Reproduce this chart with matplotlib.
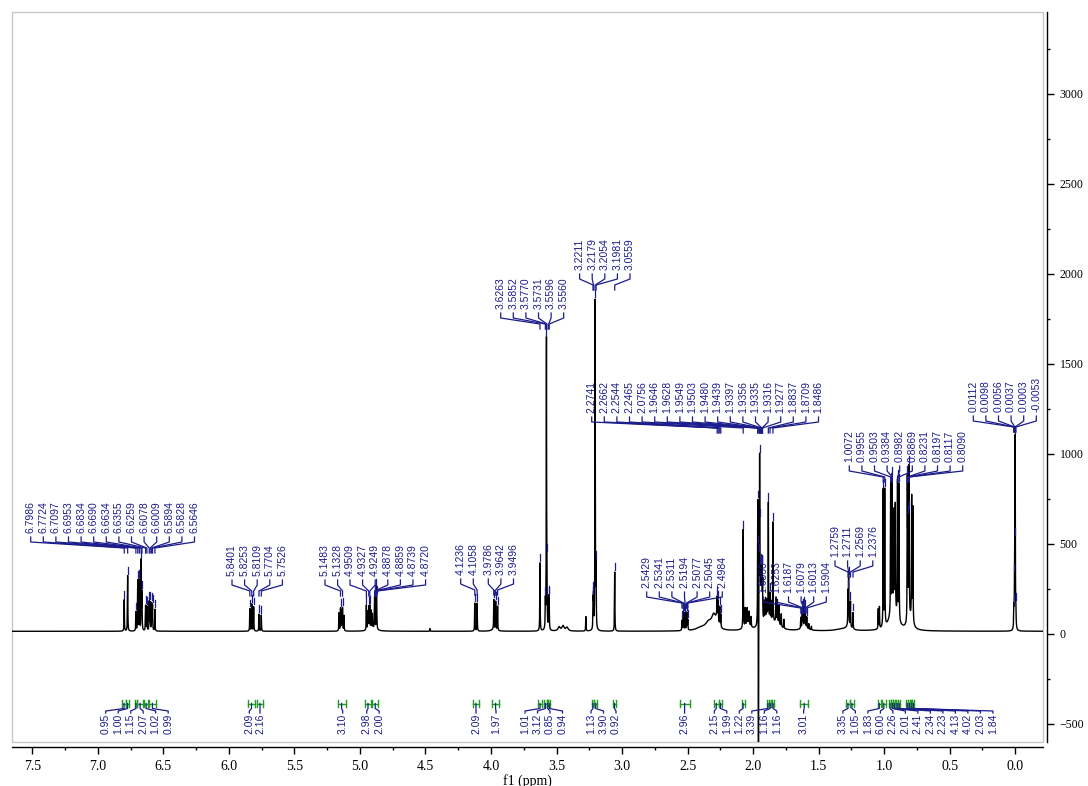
import numpy as np
import matplotlib.pyplot as plt
from matplotlib.patches import Rectangle
from matplotlib.ticker import MultipleLocator, FormatStrFormatter

# 1H NMR peak list: chemical shift (ppm) and height (intensity above baseline)
sharp_ppm = [6.7986, 6.7724, 6.7097, 6.6953, 6.6834, 6.6690, 6.6634, 6.6355, 6.6259,
             6.6078, 6.6009, 6.5894, 6.5828, 6.5646,
             5.8401, 5.8253, 5.8109, 5.7704, 5.7526,
             5.1600, 5.1483, 5.1400, 5.1328, 5.1220,
             4.9509, 4.9400, 4.9327, 4.9249, 4.9150, 4.9050, 4.8878, 4.8859, 4.8739, 4.8720,
             4.4660,
             4.1236, 4.1058, 3.9786, 3.9642, 3.9496,
             3.6263, 3.5852, 3.5770, 3.5731, 3.5596, 3.5560,
             3.2760, 3.2211, 3.2179, 3.2054, 3.1981, 3.0559,
             2.5429, 2.5341, 2.5311, 2.5194, 2.5077, 2.5045, 2.4984,
             2.2741, 2.2662, 2.2544, 2.2465,
             2.0756, 2.0600, 2.0450, 2.0300, 2.0150,
             1.9646, 1.9628, 1.9549, 1.9503, 1.9480, 1.9439, 1.9397, 1.9356, 1.9335,
             1.9316, 1.9277, 1.9150, 1.9050, 1.8950,
             1.8837, 1.8709, 1.8620, 1.8486, 1.8250, 1.8150, 1.8020, 1.7850, 1.7650,
             1.6360, 1.6253, 1.6187, 1.6079, 1.6013, 1.5904, 1.5750, 1.5550,
             1.2759, 1.2711, 1.2569, 1.2376,
             1.0450, 1.0360, 1.0072, 0.9955, 0.9503, 0.9384, 0.9250, 0.9150,
             0.8982, 0.8869, 0.8231, 0.8197, 0.8117, 0.8090, 0.7900, 0.7810,
             0.0112, 0.0098, 0.0056, 0.0037, 0.0003, -0.0053]
sharp_height = [175, 310, 105, 280, 280, 385, 200, 140, 135,
                160, 155, 150, 140, 120,
                125, 150, 135, 95, 90,
                100, 125, 110, 125, 85,
                140, 100, 125, 130, 100, 80, 150, 110, 180, 120,
                15,
                155, 155, 165, 158, 135,
                380, 140, 1610, 220, 165, 155,
                80, 150, 170, 1840, 320, 330,
                55, 80, 85, 95, 85, 80, 55,
                100, 110, 105, 70,
                550, 100, 85, 70, 55,
                620, 250, 350, 820, 300, 200, 250, 200, 150,
                200, 150, 100, 110, 95,
                655, 150, 110, 560, 130, 120, 100, 70, 50,
                60, 90, 100, 110, 95, 60, 30, 20,
                180, 260, 140, 90,
                110, 120, 760, 760, 720, 710, 520, 580,
                760, 760, 740, 450, 740, 420, 680, 640,
                60, 70, 120, 300, 1030, 80]

# broad components: centre (ppm), height, half width (ppm)
broad_ppm = [4.90, 3.98, 3.48, 3.45, 3.42, 2.40, 2.34, 2.30, 2.275, 2.04,
             1.90, 1.82, 1.61, 1.32, 1.27, 0.93, 0.80]
broad_height = [15, 10, 22, 28, 20, 15, 40, 75, 55, 40,
                60, 40, 20, 10, 25, 140, 60]
broad_width = [0.03, 0.02, 0.01, 0.01, 0.01, 0.04, 0.03, 0.02, 0.01, 0.02,
               0.04, 0.03, 0.03, 0.06, 0.02, 0.03, 0.02]

# solvent artefact dipping below the baseline
dip_ppm = [1.9590]
dip_height = [-1800]

baseline = 15
sharp_hw = 0.0015
dip_hw = 0.0008

# peak-pick label groups: shifts, x of first label (px), bottom of label text (px)
label_groups = [
    ([6.7986, 6.7724, 6.7097, 6.6953, 6.6834, 6.6690, 6.6634, 6.6355, 6.6259,
      6.6078, 6.6009, 6.5894, 6.5828, 6.5646], 30.7, 533),
    ([5.8401, 5.8253, 5.8109, 5.7704, 5.7526], 232, 576),
    ([5.1483, 5.1328], 325, 576),
    ([4.9509, 4.9327, 4.9249, 4.8878, 4.8859, 4.8739, 4.8720], 350, 576),
    ([4.1236, 4.1058], 460.7, 575),
    ([3.9786, 3.9642, 3.9496], 488.3, 575),
    ([3.6263, 3.5852, 3.5770, 3.5731, 3.5596, 3.5560], 500.7, 309),
    ([3.2211, 3.2179, 3.2054, 3.1981, 3.0559], 579.6, 270),
    ([2.2741, 2.2662, 2.2544, 2.2465, 2.0756, 1.9646, 1.9628, 1.9549, 1.9503,
      1.9480, 1.9439, 1.9397, 1.9356, 1.9335, 1.9316, 1.9277, 1.8837, 1.8709,
      1.8486], 591.7, 413),
    ([2.5429, 2.5341, 2.5311, 2.5194, 2.5077, 2.5045, 2.4984], 646.7, 588),
    ([1.6360, 1.6253, 1.6187, 1.6079, 1.6013, 1.5904], 763.3, 593),
    ([1.2759, 1.2711, 1.2569, 1.2376], 835, 557),
    ([1.0072, 0.9955, 0.9503, 0.9384, 0.8982, 0.8869, 0.8231, 0.8197, 0.8117,
      0.8090], 849.3, 462),
    ([0.0112, 0.0098, 0.0056, 0.0037, 0.0003, -0.0053], 973.3, 412),
]

# integrals: value, region start/end (ppm); label groups give x of first label (px)
int_groups = [
    ([0.95, 1.00, 1.15, 2.07, 1.02, 0.99],
     [6.812, 6.786, 6.718, 6.700, 6.645, 6.612],
     [6.788, 6.760, 6.700, 6.655, 6.618, 6.555], 105.7),
    ([2.09], [5.855], [5.800], 249.3),
    ([2.16], [5.785], [5.740], 260.0),
    ([3.10], [5.170], [5.110], 342.7),
    ([2.98, 2.00], [4.965, 4.905], [4.912, 4.862], 366.7),
    ([2.09], [4.135], [4.095], 476.0),
    ([1.97], [3.990], [3.940], 496.0),
    ([1.01, 3.12, 0.85, 0.94], [3.640, 3.595, 3.574, 3.562],
     [3.612, 3.575, 3.563, 3.548], 525.0),
    ([1.13, 3.90, 0.92], [3.232, 3.211, 3.070], [3.212, 3.190, 3.045], 591.0),
    ([2.96], [2.560], [2.485], 684.6),
    ([2.15, 1.99, 1.22, 3.39, 1.16, 1.16],
     [2.300, 2.262, 2.088, 1.895, 1.878, 1.858],
     [2.262, 2.235, 2.065, 1.878, 1.862, 1.838], 714.3),
    ([3.01], [1.640], [1.580], 803.6),
    ([3.35, 1.05, 1.83, 6.00, 2.26, 2.01, 2.41, 2.34, 2.23, 4.13, 4.02, 2.03, 1.84],
     [1.290, 1.262, 1.050, 1.020, 0.965, 0.945, 0.930, 0.908, 0.893, 0.832, 0.815,
      0.795, 0.785],
     [1.262, 1.230, 1.025, 0.985, 0.945, 0.930, 0.915, 0.893, 0.878, 0.815, 0.800,
      0.785, 0.770], 842.9),
]

navy = '#1c1c8c'
green = '#1ea01e'
W, H = 1088, 786

ppm = np.linspace(-0.212, 7.655, 30000)
spec = np.full_like(ppm, baseline, dtype=float)
for c, h in zip(sharp_ppm, sharp_height):
    spec += h / (1 + ((ppm - c) / sharp_hw) ** 2)
for c, h, w in zip(broad_ppm, broad_height, broad_width):
    spec += h / (1 + ((ppm - c) / w) ** 2)
for c, h in zip(dip_ppm, dip_height):
    spec += h / (1 + ((ppm - c) / dip_hw) ** 2)

fig = plt.figure(figsize=(W / 100, H / 100), dpi=100)
ax = fig.add_axes([12 / W, 1 - 742 / H, (1043 - 12) / W, (742 - 12) / H])
ax.set_xlim(7.655, -0.212)
ax.set_ylim(-600, 3455)

ax.plot(ppm, spec, color='black', lw=1.0)

inv = ax.transData.inverted()


def xd(px):
    return inv.transform((px, 0))[0]


def yd(py):
    return inv.transform((0, H - py))[1]


# peak picking labels
for shifts, x0, yb in label_groups:
    for i, s in enumerate(shifts):
        lx = xd(x0 + 12.6 * i)
        ax.plot([lx, lx, s, s], [yd(yb + 4), yd(yb + 9), yd(yb + 15), yd(yb + 20)],
                color=navy, lw=0.9)
        ax.text(lx, yd(yb), f'{s:.4f}', rotation=90, ha='center', va='bottom',
                fontsize=7.5, color=navy, family='Liberation Sans')
        top = np.interp(s, ppm, spec)
        ax.plot([s, s], [top + 12, top + 50], color=navy, lw=0.9)

# integrals
for vals, starts, ends, x0 in int_groups:
    for i, (v, a, b) in enumerate(zip(vals, starts, ends)):
        ax.plot([a, b], [yd(703.5)] * 2, color=green, lw=1.0)
        ax.plot([a, a], [yd(700), yd(707)], color=green, lw=1.0)
        ax.plot([b, b], [yd(700), yd(707)], color=green, lw=1.0)
        mid = (a + b) / 2
        lx = xd(x0 + 12.5 * i)
        ax.plot([mid, mid, lx, lx], [yd(703.5), yd(708.5), yd(711), yd(713)],
                color=navy, lw=0.9)
        ax.text(lx, yd(713.5), f'{v:.2f}', rotation=90, ha='center', va='top',
                fontsize=7.5, color=navy, family='Liberation Sans')

# frame and axes
ax.add_patch(Rectangle((0, 0), 1, 1, transform=ax.transAxes, fill=False,
                       edgecolor='#c8c8c8', lw=1.0, clip_on=False))
for side in ['left', 'top']:
    ax.spines[side].set_visible(False)
ax.spines['bottom'].set_position(('outward', 3.6))
ax.spines['right'].set_position(('outward', 3.0))
ax.spines['bottom'].set_linewidth(1.0)
ax.spines['right'].set_linewidth(1.0)

ax.yaxis.tick_right()
ax.xaxis.set_major_locator(MultipleLocator(0.5))
ax.xaxis.set_minor_locator(MultipleLocator(0.25))
ax.xaxis.set_major_formatter(FormatStrFormatter('%.1f'))
ax.yaxis.set_major_locator(MultipleLocator(500))
ax.yaxis.set_minor_locator(MultipleLocator(250))
ax.tick_params(axis='both', which='major', length=5, width=1.0, direction='out')
ax.tick_params(axis='both', which='minor', length=2.5, width=1.0, direction='out')
ax.tick_params(axis='x', labelsize=10, pad=4)
ax.tick_params(axis='y', labelsize=8.5, pad=4)
for lab in ax.get_xticklabels() + ax.get_yticklabels():
    lab.set_family('Liberation Serif')
ax.set_xlabel('f1 (ppm)', family='Liberation Serif', fontsize=10, labelpad=1)

fig.savefig('out.png', dpi=100)
